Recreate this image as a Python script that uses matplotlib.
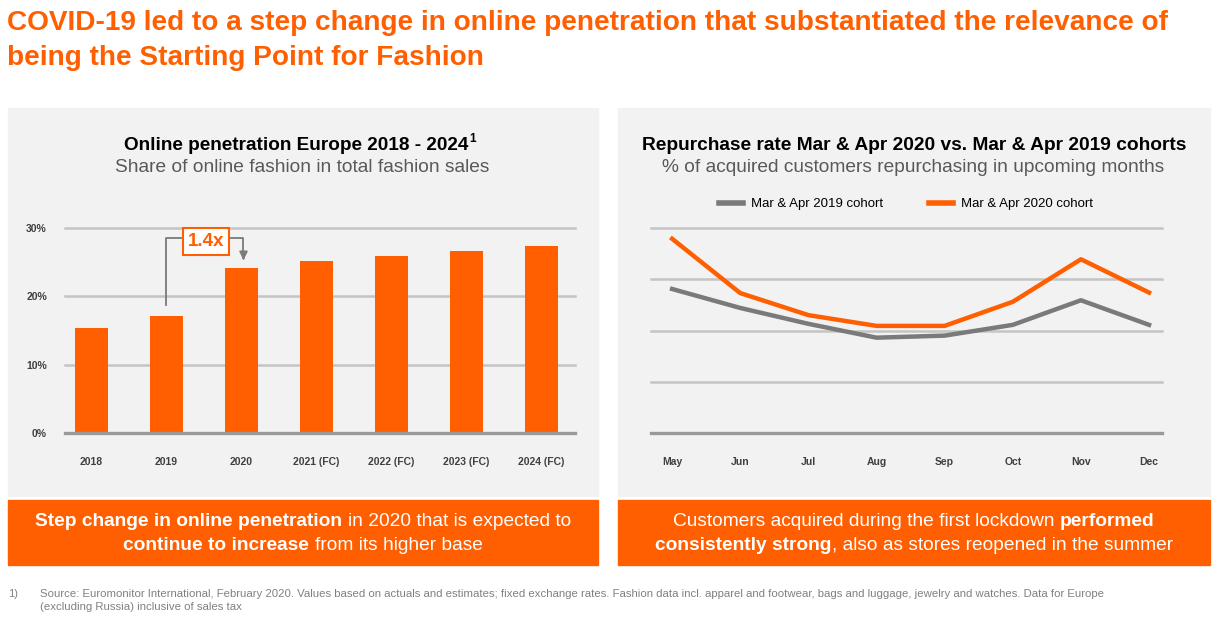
import matplotlib
matplotlib.use("Agg")
import matplotlib.pyplot as plt
from matplotlib.patches import Rectangle

plt.rcParams['font.family'] = ['Liberation Sans', 'DejaVu Sans']

ORANGE = '#FF5F00'
GRAY_LINE = '#7A7A7A'
PANEL = '#F2F2F2'
GRID = '#C4C4C4'

# left chart data
years = ['2018', '2019', '2020', '2021 (FC)', '2022 (FC)', '2023 (FC)', '2024 (FC)']
share = [15.4, 17.1, 24.2, 25.2, 25.9, 26.6, 27.4]
y_ticks = [0, 10, 20, 30]
y_labels = ['0%', '10%', '20%', '30%']

# right chart data
months = ['May', 'Jun', 'Jul', 'Aug', 'Sep', 'Oct', 'Nov', 'Dec']
cohort_2019 = [28.1, 24.4, 21.3, 18.6, 19.0, 21.1, 25.9, 21.1]
cohort_2020 = [37.9, 27.3, 23.0, 20.9, 20.9, 25.6, 33.9, 27.4]

W, H = 1212, 621
fig = plt.figure(figsize=(W / 100, H / 100), dpi=100)
fig.patch.set_facecolor('white')


def fx(x):
    return x / W


def fy(y):
    return 1 - y / H


def rect(x0, y0, x1, y1, color):
    fig.patches.append(Rectangle((fx(x0), fy(y1)), fx(x1 - x0), (y1 - y0) / H,
                                 transform=fig.transFigure, color=color, zorder=-5))


renderer = fig.canvas.get_renderer()


def rich_line(cx, y, runs, size, color='white'):
    # runs: list of (text, bold) ; draws centered at pixel cx
    probe = fig.text(0, 0, 'x x', fontsize=size)
    probe2 = fig.text(0, 0, 'xx', fontsize=size)
    space = probe.get_window_extent(renderer).width - probe2.get_window_extent(renderer).width
    probe.remove()
    probe2.remove()
    items = []
    for txt, bold in runs:
        t = fig.text(0, fy(y), txt.strip(), fontsize=size, color=color,
                     fontweight='bold' if bold else 'normal', va='center', ha='left')
        items.append((t, t.get_window_extent(renderer).width, txt))
    total = 0
    for i, (t, w, raw) in enumerate(items):
        if i > 0 and (raw.startswith(' ') or items[i - 1][2].endswith(' ')):
            total += space
        total += w
    x = cx - total / 2
    for i, (t, w, raw) in enumerate(items):
        if i > 0 and (raw.startswith(' ') or items[i - 1][2].endswith(' ')):
            x += space
        t.set_x(fx(x))
        x += w


# headline
fig.text(fx(7), fy(23), 'COVID-19 led to a step change in online penetration that substantiated the relevance of',
         fontsize=20.2, fontweight='bold', color=ORANGE, va='center')
fig.text(fx(7), fy(58), 'being the Starting Point for Fashion',
         fontsize=20.2, fontweight='bold', color=ORANGE, va='center')

# panels
rect(8, 108, 598, 496, PANEL)
rect(618, 108, 1210, 496, PANEL)
rect(8, 500, 598, 565, ORANGE)
rect(618, 500, 1210, 565, ORANGE)

# panel titles
t1 = fig.text(fx(124), fy(145), 'Online penetration Europe 2018 - 2024', fontsize=13.7,
              fontweight='bold', ha='left', va='center', color='black')
t1_end = t1.get_window_extent(renderer).x1
fig.text(t1_end / W + 0.0008, fy(139), '1', fontsize=8.5, fontweight='bold', ha='left', va='center',
         color='black')
fig.text(fx(302), fy(168), 'Share of online fashion in total fashion sales', fontsize=13.8,
         ha='center', va='center', color='#595959')
fig.text(fx(914), fy(145), 'Repurchase rate Mar & Apr 2020 vs. Mar & Apr 2019 cohorts', fontsize=13.8,
         fontweight='bold', ha='center', va='center', color='black')
fig.text(fx(913), fy(168), '% of acquired customers repurchasing in upcoming months', fontsize=13.8,
         ha='center', va='center', color='#595959')

# left bar chart
ax1 = fig.add_axes([fx(65), fy(433), fx(575 - 65), (433 - 228) / H])
ax1.set_facecolor('none')
xs = list(range(len(years)))
ax1.bar(xs, share, width=0.44, color=ORANGE, zorder=3)
ax1.set_xlim(-0.35, 6.45)
ax1.set_ylim(0, 30)
for v in y_ticks[1:]:
    ax1.axhline(v, color=GRID, lw=1.8, zorder=1, clip_on=False)
ax1.axhline(0, color='#999999', lw=2.4, zorder=4, clip_on=False)
ax1.set_yticks(y_ticks)
ax1.set_yticklabels(y_labels, fontsize=7.5, color='#404040', fontweight='bold')
ax1.set_xticks(xs)
ax1.set_xticklabels(years, fontsize=7.5, color='#404040', fontweight='bold')
ax1.tick_params(length=0, axis='y', pad=13)
ax1.tick_params(length=0, axis='x', pad=17)
for s in ax1.spines.values():
    s.set_visible(False)

# 1.4x annotation
elbow = 28.5
ax1.plot([1, 1, 1.2], [share[1] + 1.6, elbow, elbow], color=GRAY_LINE, lw=1.3, zorder=5)
ax1.plot([1.85, 2.03, 2.03], [elbow, elbow, share[2] + 1.6], color=GRAY_LINE, lw=1.3, zorder=5)
ax1.annotate('', xy=(2.03, share[2] + 0.7), xytext=(2.03, share[2] + 1.8),
             arrowprops=dict(arrowstyle='-|>', color=GRAY_LINE, lw=1.3, mutation_scale=12), zorder=5)
ax1.text(1.53, 28.0, '1.4x', fontsize=13.5, fontweight='bold', color=ORANGE, ha='center', va='center',
         zorder=6, bbox=dict(boxstyle='square,pad=0.26', fc='white', ec=ORANGE, lw=1.5))

# right line chart
ax2 = fig.add_axes([fx(651), fy(433), fx(1162 - 651), (433 - 228) / H])
ax2.set_facecolor('none')
mx = list(range(len(months)))
ax2.plot(mx, cohort_2019, color=GRAY_LINE, lw=3.2, label='Mar & Apr 2019 cohort', zorder=3)
ax2.plot(mx, cohort_2020, color=ORANGE, lw=3.2, label='Mar & Apr 2020 cohort', zorder=4)
ax2.set_xlim(-0.31, 7.19)
ax2.set_ylim(0, 40)
for v in [10, 20, 30, 40]:
    ax2.axhline(v, color=GRID, lw=1.8, zorder=1, clip_on=False)
ax2.axhline(0, color='#999999', lw=2.4, zorder=2, clip_on=False)
ax2.set_yticks([])
ax2.set_xticks(mx)
ax2.set_xticklabels(months, fontsize=7.5, color='#404040', fontweight='bold')
ax2.tick_params(length=0, axis='x', pad=17)
for s in ax2.spines.values():
    s.set_visible(False)
leg = ax2.legend(loc='center', bbox_to_anchor=(fx(906), fy(204)), bbox_transform=fig.transFigure,
                 ncol=2, frameon=False, fontsize=9.5, handlelength=1.8, columnspacing=3.5,
                 handletextpad=0.6)
for line in leg.get_lines():
    line.set_linewidth(4)

# takeaway boxes
rich_line(303, 521, [('Step change in online penetration', True),
                     (' in 2020 that is expected to', False)], 13.8)
rich_line(303, 545, [('continue to increase', True), (' from its higher base', False)], 13.8)
rich_line(914, 521, [('Customers acquired during the first lockdown ', False),
                     ('performed', True)], 13.8)
rich_line(914, 545, [('consistently strong', True),
                     (', also as stores reopened in the summer', False)], 13.8)

# footnote
fn_color = '#808080'
fig.text(fx(8), fy(594), '1)', fontsize=8, color=fn_color, va='center')
fig.text(fx(40), fy(594), 'Source: Euromonitor International, February 2020. Values based on actuals and estimates; '
         'fixed exchange rates. Fashion data incl. apparel and footwear, bags and luggage, jewelry and watches. '
         'Data for Europe', fontsize=8.2, color=fn_color, va='center')
fig.text(fx(40), fy(607), '(excluding Russia) inclusive of sales tax', fontsize=8.2, color=fn_color, va='center')

fig.savefig('out.png', dpi=100, facecolor='white')
